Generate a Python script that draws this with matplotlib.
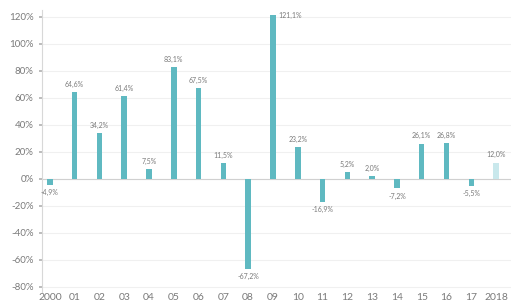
import matplotlib.pyplot as plt
from matplotlib.ticker import FuncFormatter

years = ['2000', '01', '02', '03', '04', '05', '06', '07', '08', '09',
         '10', '11', '12', '13', '14', '15', '16', '17', '2018']
returns = [-4.9, 64.6, 34.2, 61.4, 7.5, 83.1, 67.5, 11.5, -67.2, 121.1,
           23.2, -16.9, 5.2, 2.0, -7.2, 26.1, 26.8, -5.5, 12.0]
y_ticks = [-80, -60, -40, -20, 0, 20, 40, 60, 80, 100, 120]

teal = '#5fb9c1'
light = '#c9e8ec'
grey = '#7a7a7a'

plt.rcParams['font.family'] = ['Lato', 'DejaVu Sans']

fig = plt.figure(figsize=(5.11, 3.08), dpi=100)
ax = fig.add_axes([0.082, 0.052, 0.918, 0.915])

x = list(range(len(years)))
colors = [teal] * (len(years) - 1) + [light]
ax.bar(x, returns, width=0.22, color=colors, zorder=3)

for i, v in enumerate(returns):
    txt = '{:.1f}%'.format(v).replace('.', ',')
    if i == 9:
        ax.text(i + 0.2, v, txt, ha='left', va='center', fontsize=5, color=grey)
    elif v >= 0:
        ax.text(i, v + 3, txt, ha='center', va='bottom', fontsize=5, color=grey)
    else:
        ax.text(i, v - 3, txt, ha='center', va='top', fontsize=5, color=grey)

ax.set_xlim(-0.32, 18.6)
ax.set_ylim(-84, 125)
ax.set_xticks(x)
ax.set_xticklabels(years)
ax.set_yticks(y_ticks)
ax.yaxis.set_major_formatter(FuncFormatter(lambda v, p: '{:.0f}%'.format(v)))

ax.grid(axis='y', color='#f0f0f0', linewidth=0.8, zorder=0)
ax.axhline(0, color='#d0d0d0', linewidth=0.8, zorder=2)

for s in ['top', 'right', 'bottom']:
    ax.spines[s].set_visible(False)
ax.spines['left'].set_color('#d8d8d8')
ax.spines['left'].set_linewidth(0.8)

ax.tick_params(axis='y', length=2, width=1.2, color='#b0b0b0', labelsize=7,
               labelcolor=grey, pad=4)
ax.tick_params(axis='x', length=0, labelsize=7.5, labelcolor=grey, pad=1)

fig.savefig('out.png', dpi=100)
